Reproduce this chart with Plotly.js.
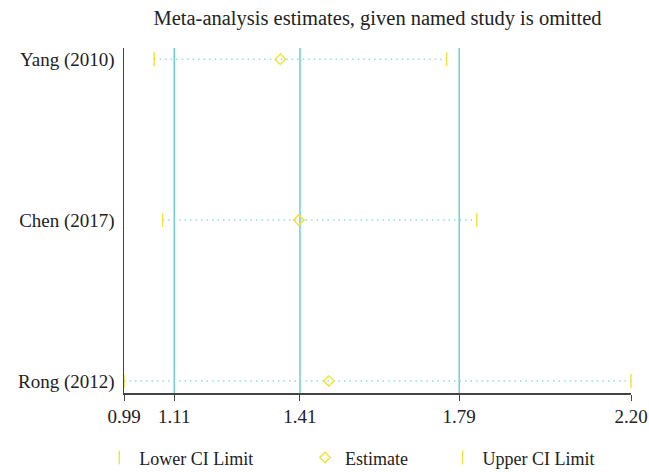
<!DOCTYPE html>
<html><head><meta charset="utf-8">
<script src="https://cdn.plot.ly/plotly-3.0.1.min.js"></script>
<style>body{margin:0;background:#fff}</style>
</head><body><div id="chart" style="width:649px;height:472px"></div>
<script>
const studies = ["Rong (2012)", "Chen (2017)", "Yang (2010)"];
const lowerCI = [0.99, 1.082, 1.062];
const estimate = [1.479, 1.407, 1.363];
const upperCI = [2.20, 1.832, 1.760];
const overall = [1.11, 1.41, 1.79];
const tickVals = [0.99, 1.11, 1.41, 1.79, 2.20];
const tickText = ["0.99", "1.11", "1.41", "1.79", "2.20"];

const yellow = "#f2e33c";
const teal = "#6ccdd4";
const dotCol = "#8fdbe0";

const traces = [];
studies.forEach((s, i) => {
  traces.push({x: [lowerCI[i], upperCI[i]], y: [s, s], mode: "lines", type: "scatter",
    line: {color: dotCol, width: 1.5, dash: "1.5px,4px"}, showlegend: false, hoverinfo: "skip"});
});
traces.push({x: lowerCI, y: studies, mode: "markers", type: "scatter", name: "Lower CI Limit",
  marker: {symbol: "line-ns", size: 10, line: {color: yellow, width: 1.5}, color: yellow}, legend: "legend", cliponaxis: false});
traces.push({x: estimate, y: studies, mode: "markers", type: "scatter", name: "Estimate",
  marker: {symbol: "diamond-open", size: 8, line: {color: yellow, width: 1.5}, color: yellow}, legend: "legend2", cliponaxis: false});
traces.push({x: upperCI, y: studies, mode: "markers", type: "scatter", name: "Upper CI Limit",
  marker: {symbol: "line-ns", size: 10, line: {color: yellow, width: 1.5}, color: yellow}, legend: "legend3", cliponaxis: false});

const shapes = overall.map(v => ({type: "line", xref: "x", yref: "paper", x0: v, x1: v, y0: 0, y1: 1,
  line: {color: teal, width: 1.5}, layer: "below"}));

const fam = "Liberation Serif, DejaVu Serif, serif";
const font = {family: fam, size: 19, color: "#222"};
const legFont = {family: fam, size: 18, color: "#222"};
const legBase = {orientation: "h", xref: "container", yref: "container", yanchor: "middle", y: 0.03,
  font: legFont, bgcolor: "rgba(0,0,0,0)", itemwidth: 30};

const layout = {
  width: 649, height: 472,
  margin: {l: 124, r: 18, t: 48, b: 79},
  paper_bgcolor: "#fff", plot_bgcolor: "#fff",
  font: font,
  title: {text: "Meta-analysis estimates, given named study is omitted", x: 0.5, xref: "paper",
    y: 0.962, yanchor: "middle", font: {family: fam, size: 20.5, color: "#222"}},
  xaxis: {range: [0.99, 2.20], tickvals: tickVals, ticktext: tickText, showgrid: false, zeroline: false,
    showline: true, linecolor: "#444", linewidth: 1.5, ticks: "outside", ticklen: 6, tickcolor: "#444",
    tickfont: font},
  yaxis: {type: "category", categoryorder: "array", categoryarray: studies, range: [-0.075, 2.07],
    showgrid: false, zeroline: false, showline: true, linecolor: "#444", linewidth: 1.5, ticks: "",
    ticklabelstandoff: 4, tickfont: font},
  shapes: shapes,
  legend: Object.assign({}, legBase, {x: 0.153}),
  legend2: Object.assign({}, legBase, {x: 0.470}),
  legend3: Object.assign({}, legBase, {x: 0.682}),
  showlegend: true
};
Plotly.newPlot("chart", traces, layout, {displayModeBar: false, staticPlot: true});
</script></body></html>
